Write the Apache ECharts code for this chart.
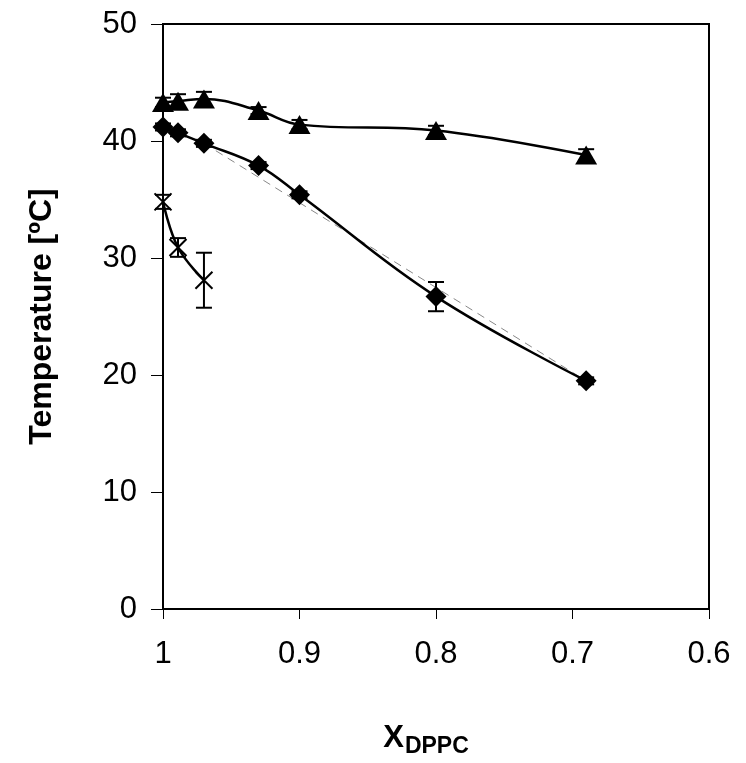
<!DOCTYPE html>
<html>
<head>
<meta charset="utf-8">
<script src="https://cdn.jsdelivr.net/npm/echarts@6/dist/echarts.min.js"></script>
<style>html,body{margin:0;padding:0;background:#fff}#c{width:746px;height:763px}</style>
</head>
<body>
<div id="c"></div>
<script>
// Data
const xTicks = [1, 0.9, 0.8, 0.7, 0.6];
const yTicks = [0, 10, 20, 30, 40, 50];

const triX = [1, 0.989, 0.97, 0.93, 0.9, 0.8, 0.69];
const triY = [43.3, 43.4, 43.6, 42.6, 41.4, 40.9, 38.8];
const triErr = [0.4, 0.6, 0.6, 0.3, 0.4, 0.4, 0.5];

const diaX = [1, 0.989, 0.97, 0.93, 0.9, 0.8, 0.69];
const diaY = [41.2, 40.7, 39.8, 37.9, 35.4, 26.7, 19.5];
const diaErr = [0.3, 0.3, 0.3, 0.3, 0.3, 1.25, 0.3];

const crossX = [1, 0.989, 0.97];
const crossY = [34.8, 30.9, 28.1];
const crossErr = [0.6, 0.8, 2.35];

const dashX = [0.97, 0.69];
const dashY = [39.8, 19.5];

const zip = (xs, ys) => xs.map((x, i) => [x, ys[i]]);
const zip3 = (xs, ys, es) => xs.map((x, i) => [x, ys[i], es[i]]);

function errRender(params, api) {
  const x = api.value(0), y = api.value(1), e = api.value(2);
  const top = api.coord([x, y + e]);
  const bot = api.coord([x, y - e]);
  const hw = 8;
  const st = { stroke: '#000', lineWidth: 2 };
  return {
    type: 'group',
    children: [
      { type: 'line', shape: { x1: top[0], y1: top[1], x2: bot[0], y2: bot[1] }, style: st },
      { type: 'line', shape: { x1: top[0] - hw, y1: top[1], x2: top[0] + hw, y2: top[1] }, style: st },
      { type: 'line', shape: { x1: bot[0] - hw, y1: bot[1], x2: bot[0] + hw, y2: bot[1] }, style: st }
    ]
  };
}

const font = '"Liberation Sans", Arial, sans-serif';
const chart = echarts.init(document.getElementById('c'));
chart.setOption({
  animation: false,
  grid: { left: 163, right: 37, top: 24, bottom: 154, show: true, borderColor: '#000', borderWidth: 2, backgroundColor: 'transparent' },
  xAxis: {
    type: 'value', inverse: true, min: 0.6, max: 1, interval: 0.1,
    axisLine: { show: true, onZero: false, lineStyle: { color: '#000', width: 2 } },
    axisTick: { show: true, length: 10, lineStyle: { color: '#000', width: 1 } },
    splitLine: { show: false },
    axisLabel: { margin: 30, color: '#000', fontSize: 31, fontFamily: font,
      formatter: v => { const t = xTicks.find(k => Math.abs(k - v) < 1e-9); return t === undefined ? '' : String(t); } },
    name: '{a|X}{b|DPPC}', nameLocation: 'middle', nameGap: 111,
    nameTextStyle: { padding: [0, 20, 0, 0],
      rich: {
        a: { fontSize: 31, fontWeight: 'bold', fontFamily: font, color: '#000', verticalAlign: 'bottom', lineHeight: 34 },
        b: { fontSize: 23, fontWeight: 'bold', fontFamily: font, color: '#000', verticalAlign: 'bottom', lineHeight: 24, padding: [0, 0, -4, 1] }
      } }
  },
  yAxis: {
    type: 'value', min: 0, max: 50, interval: 10,
    axisLine: { show: true, lineStyle: { color: '#000', width: 2 } },
    axisTick: { show: true, length: 12, lineStyle: { color: '#000', width: 1 } },
    splitLine: { show: false },
    axisLabel: { margin: 26, color: '#000', fontSize: 31, fontFamily: font,
      formatter: v => { const t = yTicks.find(k => Math.abs(k - v) < 1e-9); return t === undefined ? '' : String(t); } },
    name: 'Temperature [ºC]', nameLocation: 'middle', nameGap: 105, nameRotate: 90,
    nameTextStyle: { fontSize: 32, fontWeight: 'bold', fontFamily: font, color: '#000' }
  },
  series: [
    { type: 'line', data: zip(dashX, dashY), symbol: 'none', clip: false, z: 1,
      lineStyle: { color: '#888', width: 1, type: [8, 6] } },
    { type: 'line', data: zip(triX, triY), smooth: 0.4, clip: false, z: 3,
      symbol: 'triangle', symbolSize: [22, 19], itemStyle: { color: '#000' },
      lineStyle: { color: '#000', width: 2.5 } },
    { type: 'line', data: zip(diaX, diaY), smooth: 0.4, clip: false, z: 3,
      symbol: 'diamond', symbolSize: [21, 21], itemStyle: { color: '#000' },
      lineStyle: { color: '#000', width: 2.5 } },
    { type: 'line', data: zip(crossX, crossY), smooth: 0.4, clip: false, z: 3,
      symbol: 'path://M0,0L10,10M10,0L0,10', symbolSize: [17, 17],
      itemStyle: { color: 'none', borderColor: '#000', borderWidth: 2 },
      lineStyle: { color: '#000', width: 2.5 } },
    { type: 'custom', renderItem: errRender, data: zip3(triX, triY, triErr), clip: false, z: 4 },
    { type: 'custom', renderItem: errRender, data: zip3(diaX, diaY, diaErr), clip: false, z: 4 },
    { type: 'custom', renderItem: errRender, data: zip3(crossX, crossY, crossErr), clip: false, z: 4 }
  ]
});
</script>
</body>
</html>
